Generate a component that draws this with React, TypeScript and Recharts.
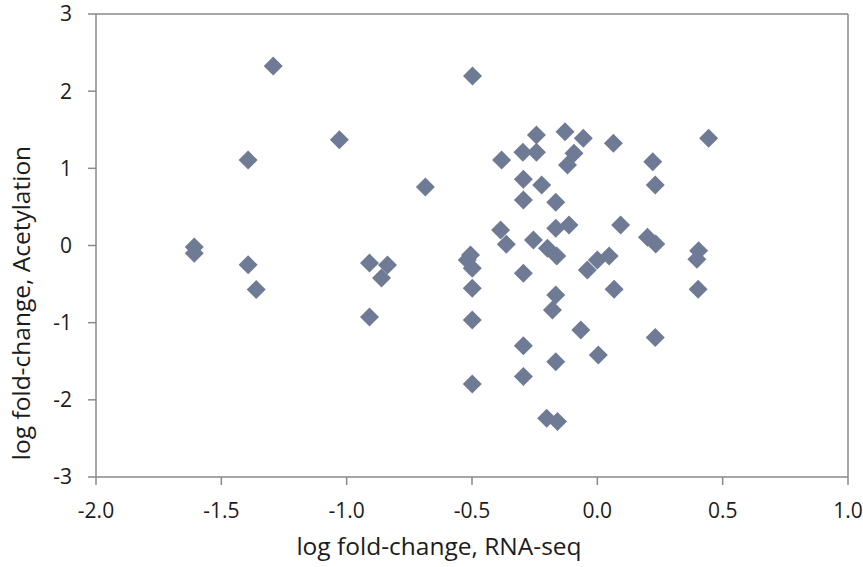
import { ScatterChart, Scatter, XAxis, YAxis, ReferenceLine } from 'recharts';

// log fold-change, RNA-seq (x) vs log fold-change, Acetylation (y)
const rnaSeq = [
  -1.293, -1.393, -1.608, -1.608, -1.393, -1.361, -1.029, -0.686, -0.909, -0.837,
  -0.861, -0.909, -0.498, -0.506, -0.519, -0.499, -0.499, -0.499, -0.499, -0.382,
  -0.386, -0.363, -0.243, -0.129, -0.056, -0.297, -0.243, -0.093, -0.119, 0.064,
  0.444, 0.221, 0.231, -0.295, -0.222, -0.295, -0.166, -0.255, -0.166, -0.113,
  -0.199, -0.162, -0.295, -0.04, 0.0, 0.047, 0.093, 0.2, 0.233, 0.404,
  0.397, -0.166, 0.067, 0.402, -0.179, -0.066, 0.231, -0.295, 0.004, -0.166,
  -0.295, -0.202, -0.159,
];
const acetylation = [
  2.325, 1.107, -0.02, -0.1, -0.25, -0.57, 1.37, 0.758, -0.227, -0.253,
  -0.421, -0.926, 2.196, -0.123, -0.188, -0.295, -0.554, -0.965, -1.794, 1.107,
  0.2, 0.016, 1.431, 1.474, 1.389, 1.207, 1.207, 1.194, 1.043, 1.324,
  1.389, 1.085, 0.784, 0.858, 0.784, 0.589, 0.56, 0.071, 0.223, 0.266,
  -0.036, -0.136, -0.36, -0.317, -0.188, -0.136, 0.266, 0.106, 0.019, -0.067,
  -0.179, -0.641, -0.567, -0.567, -0.835, -1.095, -1.192, -1.298, -1.418, -1.505,
  -1.699, -2.238, -2.282,
];
const xTicks = [-2.0, -1.5, -1.0, -0.5, 0.0, 0.5, 1.0];
const yTicks = [-3, -2, -1, 0, 1, 2, 3];

const points = rnaSeq.map((x, i) => ({ x, y: acetylation[i] }));

const FONT = '"Open Sans", Lato, sans-serif';
const AXIS = '#8a8a8a';
const TEXT = '#1c1c1c';

function Diamond(props: any) {
  const { cx, cy } = props;
  const r = 9.5;
  return (
    <polygon
      points={`${cx},${cy - r} ${cx + r},${cy} ${cx},${cy + r} ${cx - r},${cy}`}
      fill="#6f7b95"
    />
  );
}

export default function App() {
  return (
    <div style={{ position: 'absolute', left: 0, top: 0, background: '#fff' }}>
      <ScatterChart width={863} height={567} margin={{ top: 14, right: 15, bottom: 0, left: 0 }}>
        <XAxis
          type="number"
          dataKey="x"
          domain={[-2, 1]}
          ticks={xTicks}
          tickFormatter={(v: number) => v.toFixed(1)}
          height={90}
          tickSize={8}
          tickMargin={18}
          stroke={AXIS}
          strokeWidth={1.5}
          tick={{ fill: TEXT, fontSize: 21, fontFamily: FONT }}
          label={{
            content: () => (
              <text x={439} y={555} textAnchor="middle" fill={TEXT} fontSize={24.5} fontFamily={FONT}>
                log fold-change, RNA-seq
              </text>
            ),
          }}
        />
        <YAxis
          type="number"
          dataKey="y"
          domain={[-3, 3]}
          ticks={yTicks}
          width={96}
          tickSize={8}
          tickMargin={16}
          stroke={AXIS}
          strokeWidth={1.5}
          tick={{ fill: TEXT, fontSize: 21, fontFamily: FONT }}
          label={{
            content: () => (
              <text
                x={30}
                y={303}
                transform="rotate(-90 30 303)"
                textAnchor="middle"
                fill={TEXT}
                fontSize={24.5}
                fontFamily={FONT}
              >
                log fold-change, Acetylation
              </text>
            ),
          }}
        />
        <ReferenceLine y={3} stroke={AXIS} strokeWidth={1.5} />
        <ReferenceLine x={1} stroke={AXIS} strokeWidth={1.5} />
        <Scatter data={points} shape={<Diamond />} isAnimationActive={false} />
      </ScatterChart>
    </div>
  );
}
